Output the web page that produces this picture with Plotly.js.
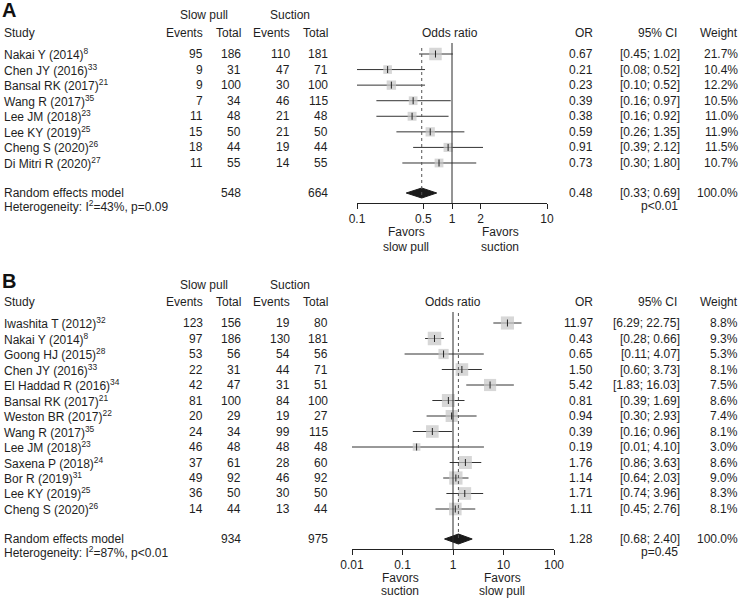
<!DOCTYPE html>
<html>
<head>
<meta charset="utf-8">
<script src="https://cdn.plot.ly/plotly-3.0.1.min.js"></script>
<style>html,body{margin:0;padding:0;background:#fff}#chart{width:739px;height:598px}</style>
</head>
<body>
<div id="chart"></div>
<script>
// ---------- Panel A data ----------
const studiesA = ["Nakai Y (2014)", "Chen JY (2016)", "Bansal RK (2017)", "Wang R (2017)", "Lee JM (2018)", "Lee KY (2019)", "Cheng S (2020)", "Di Mitri R (2020)"];
const refsA = ["8", "33", "21", "35", "23", "25", "26", "27"];
const evSlowA = [95, 9, 9, 7, 11, 15, 18, 11];
const totSlowA = [186, 31, 100, 34, 48, 50, 44, 55];
const evSucA = [110, 47, 30, 46, 21, 21, 19, 14];
const totSucA = [181, 71, 100, 115, 48, 50, 44, 55];
const orA = [0.67, 0.21, 0.23, 0.39, 0.38, 0.59, 0.91, 0.73];
const loA = [0.45, 0.08, 0.10, 0.16, 0.16, 0.26, 0.39, 0.30];
const hiA = [1.02, 0.52, 0.52, 0.97, 0.92, 1.35, 2.12, 1.80];
const wA = [21.7, 10.4, 12.2, 10.5, 11.0, 11.9, 11.5, 10.7];
const pooledA = {or: 0.48, lo: 0.33, hi: 0.69, totSlow: 548, totSuc: 664, i2: "43%", phet: "p=0.09", p: "p<0.01", w: "100.0%"};
const ticksA = [0.1, 0.5, 1, 2, 10];
const tickTextA = ["0.1", "0.5", "1", "2", "10"];
const favorsA = [["Favors", "slow pull"], ["Favors", "suction"]];

// ---------- Panel B data ----------
const studiesB = ["Iwashita T (2012)", "Nakai Y (2014)", "Goong HJ (2015)", "Chen JY (2016)", "El Haddad R (2016)", "Bansal RK (2017)", "Weston BR (2017)", "Wang R (2017)", "Lee JM (2018)", "Saxena P (2018)", "Bor R (2019)", "Lee KY (2019)", "Cheng S (2020)"];
const refsB = ["32", "8", "28", "33", "34", "21", "22", "35", "23", "24", "31", "25", "26"];
const evSlowB = [123, 97, 53, 22, 42, 81, 20, 24, 46, 37, 49, 36, 14];
const totSlowB = [156, 186, 56, 31, 47, 100, 29, 34, 48, 61, 92, 50, 44];
const evSucB = [19, 130, 54, 44, 31, 84, 19, 99, 48, 28, 46, 30, 13];
const totSucB = [80, 181, 56, 71, 51, 100, 27, 115, 48, 60, 92, 50, 44];
const orB = [11.97, 0.43, 0.65, 1.50, 5.42, 0.81, 0.94, 0.39, 0.19, 1.76, 1.14, 1.71, 1.11];
const loB = [6.29, 0.28, 0.11, 0.60, 1.83, 0.39, 0.30, 0.16, 0.01, 0.86, 0.64, 0.74, 0.45];
const hiB = [22.75, 0.66, 4.07, 3.73, 16.03, 1.69, 2.93, 0.96, 4.10, 3.63, 2.03, 3.96, 2.76];
const wB = [8.8, 9.3, 5.3, 8.1, 7.5, 8.6, 7.4, 8.1, 3.0, 8.6, 9.0, 8.3, 8.1];
const pooledB = {or: 1.28, lo: 0.68, hi: 2.40, totSlow: 934, totSuc: 975, i2: "87%", phet: "p<0.01", p: "p=0.45", w: "100.0%"};
const ticksB = [0.01, 0.1, 1, 10, 100];
const tickTextB = ["0.01", "0.1", "1", "10", "100"];
const favorsB = [["Favors", "suction"], ["Favors", "slow pull"]];

// ---------- layout geometry (pixels) ----------
const W = 739, H = 598;
const FONT = "Liberation Sans, Arial, sans-serif";
const TXT = "#1e1e1e";
const FS = 12;
const px = x => x / W;
const py = y => 1 - y / H;

const panels = [
  {label: "A", xa: "x", studies: studiesA, refs: refsA, evS: evSlowA, totS: totSlowA, evC: evSucA, totC: totSucA,
   or: orA, lo: loA, hi: hiA, w: wA, pooled: pooledA, ticks: ticksA, tickText: tickTextA, favors: favorsA,
   labelY: 10, hdr1: 15, hdr2: 33, row0: 54, step: 15.57, reY: 193, hetY: 206, axisY: 203,
   x0: 357, x1: 547, range: [-1, 1], refTop: 43, dotTop: 48, dotBot: 196, sqMax: 12.5, favY: [232, 247],
   favX: [406, 500]},
  {label: "B", xa: "x2", studies: studiesB, refs: refsB, evS: evSlowB, totS: totSlowB, evC: evSucB, totC: totSucB,
   or: orB, lo: loB, hi: hiB, w: wB, pooled: pooledB, ticks: ticksB, tickText: tickTextB, favors: favorsB,
   labelY: 281, hdr1: 285, hdr2: 302, row0: 323, step: 15.5, reY: 539, hetY: 552, axisY: 549,
   x0: 352, x1: 554, range: [-2, 2], refTop: 312, dotTop: 313, dotBot: 541, sqMax: 13.5, favY: [578, 591],
   favX: [400, 502]}
];

const traces = [];
const annotations = [];
const shapes = [];

function ann(text, x, y, anchor, opts) {
  annotations.push(Object.assign({
    text: text, x: px(x), y: py(y), xref: "paper", yref: "paper",
    xanchor: anchor, yanchor: "middle", showarrow: false,
    borderpad: 0, borderwidth: 0,
    font: {family: FONT, size: FS, color: TXT}
  }, opts || {}));
}

panels.forEach(p => {
  const rows = p.studies.map((_, i) => p.row0 + i * p.step);
  const wmax = Math.max(...p.w);

  // panel letter
  ann("<b>" + p.label + "</b>", 2, p.labelY, "left", {font: {family: FONT, size: 20, color: "#111"}});
  // headers
  ann("Slow pull", 204, p.hdr1, "center");
  ann("Suction", 290, p.hdr1, "center");
  ann("Study", 4, p.hdr2, "left");
  ann("Events", 203, p.hdr2, "right");
  ann("Total", 241, p.hdr2, "right");
  ann("Events", 290, p.hdr2, "right");
  ann("Total", 328, p.hdr2, "right");
  ann("Odds ratio", (p.x0 + p.x1) / 2 + (p.label === "A" ? -2 : 0), p.hdr2, "center");
  ann("OR", 593, p.hdr2, "right");
  ann("95% CI", 677, p.hdr2, "right");
  ann("Weight", 738, p.hdr2, "right");

  // study rows
  rows.forEach((y, i) => {
    ann(p.studies[i] + "<sup>" + p.refs[i] + "</sup>", 4, y, "left");
    ann(String(p.evS[i]), 203, y, "right");
    ann(String(p.totS[i]), 241, y, "right");
    ann(String(p.evC[i]), 290, y, "right");
    ann(String(p.totC[i]), 328, y, "right");
    ann(p.or[i].toFixed(2), 593, y, "right");
    ann("[" + p.lo[i].toFixed(2) + "; " + p.hi[i].toFixed(2) + "]", 680, y, "right");
    ann(p.w[i].toFixed(1) + "%", 738, y, "right");
  });

  // pooled row
  ann("Random effects model", 4, p.reY, "left");
  ann(String(p.pooled.totSlow), 241, p.reY, "right");
  ann(String(p.pooled.totSuc), 328, p.reY, "right");
  ann(p.pooled.or.toFixed(2), 593, p.reY, "right");
  ann("[" + p.pooled.lo.toFixed(2) + "; " + p.pooled.hi.toFixed(2) + "]", 680, p.reY, "right");
  ann(p.pooled.w, 738, p.reY, "right");
  ann("Heterogeneity: I<sup>2</sup>=" + p.pooled.i2 + ", " + p.pooled.phet, 4, p.hetY, "left");
  ann(p.pooled.p, 678, p.hetY, "right");

  // favors labels
  p.favors.forEach((lines, k) => {
    lines.forEach((t, j) => ann(t, p.favX[k], p.favY[j], "center"));
  });

  // reference lines
  shapes.push({type: "line", xref: p.xa, yref: "y", x0: 1, x1: 1, y0: p.refTop, y1: p.axisY,
    line: {color: "#2a2a2a", width: 1}});
  shapes.push({type: "line", xref: p.xa, yref: "y", x0: p.pooled.or, x1: p.pooled.or, y0: p.dotTop, y1: p.dotBot,
    line: {color: "#555", width: 1, dash: "dot"}});

  // CI lines
  const lx = [], ly = [];
  rows.forEach((y, i) => { lx.push(p.lo[i], p.hi[i], null); ly.push(y, y, null); });
  traces.push({type: "scatter", mode: "lines", x: lx, y: ly, xaxis: p.xa, yaxis: "y",
    line: {color: "#333", width: 1}, hoverinfo: "skip"});
  // squares
  traces.push({type: "scatter", mode: "markers", x: p.or, y: rows, xaxis: p.xa, yaxis: "y",
    marker: {symbol: "square", color: "#c6c6c6", size: p.w.map(w => p.sqMax * Math.sqrt(w / wmax)), line: {width: 0}}});
  // point estimate tick
  traces.push({type: "scatter", mode: "markers", x: p.or, y: rows, xaxis: p.xa, yaxis: "y",
    marker: {symbol: "line-ns", size: 5, line: {color: "#222", width: 1}}});
  // diamond
  const dh = 5;
  traces.push({type: "scatter", mode: "lines", fill: "toself", xaxis: p.xa, yaxis: "y",
    x: [p.pooled.lo, p.pooled.or, p.pooled.hi, p.pooled.or, p.pooled.lo],
    y: [p.reY, p.reY - dh, p.reY, p.reY + dh, p.reY],
    line: {color: "#1a1a1a", width: 1}, fillcolor: "#1a1a1a"});
});

function xAxis(p) {
  return {
    type: "log", range: p.range, domain: [px(p.x0), px(p.x1)],
    anchor: "free", position: py(p.axisY),
    showline: true, linecolor: "#222", linewidth: 1,
    ticks: "outside", ticklen: 5, tickwidth: 1, tickcolor: "#222",
    tickmode: "array", tickvals: p.ticks, ticktext: p.tickText,
    tickfont: {family: FONT, size: FS, color: TXT},
    showgrid: false, zeroline: false, fixedrange: true
  };
}

const layout = {
  width: W, height: H,
  margin: {l: 0, r: 0, t: 0, b: 0},
  paper_bgcolor: "#fff", plot_bgcolor: "rgba(0,0,0,0)",
  showlegend: false,
  xaxis: xAxis(panels[0]),
  xaxis2: xAxis(panels[1]),
  yaxis: {range: [H, 0], domain: [0, 1], visible: false, fixedrange: true},
  annotations: annotations,
  shapes: shapes
};

Plotly.newPlot("chart", traces, layout, {displayModeBar: false, staticPlot: true});
</script>
</body>
</html>
